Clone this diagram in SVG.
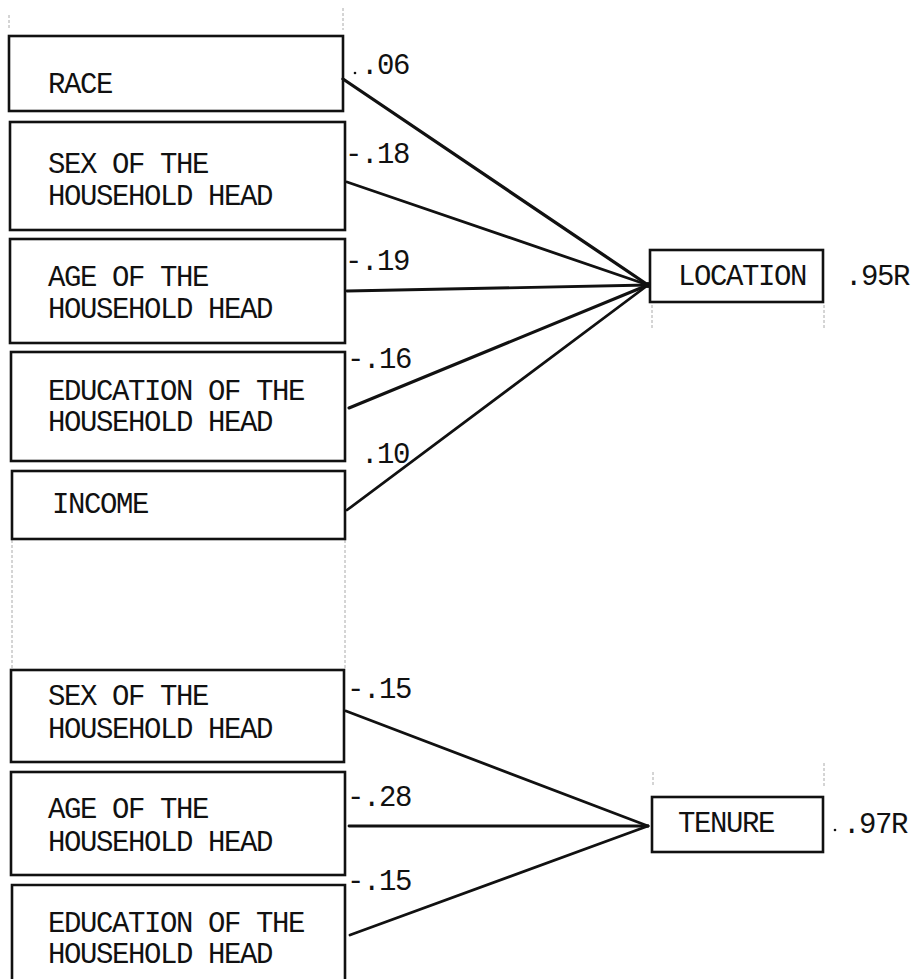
<svg xmlns="http://www.w3.org/2000/svg" width="913" height="979" viewBox="0 0 913 979">
<style>
.box{fill:none;stroke:#111;stroke-width:2.6}
.t{font-family:"Liberation Mono","DejaVu Sans Mono",monospace;font-size:29px;letter-spacing:-1.4px;fill:#111}
.c{stroke:#111;stroke-width:2.8;fill:none;stroke-linecap:round}
.faint{stroke:#aaa;stroke-width:1;fill:none;stroke-dasharray:3 2}
</style>
<rect width="913" height="979" fill="#fff"/>
<g id="guides">
<line class="faint" x1="9" y1="15" x2="9" y2="28"/>
<line class="faint" x1="343" y1="8" x2="343" y2="30"/>
<line class="faint" x1="12" y1="540" x2="12" y2="670"/>
<line class="faint" x1="345" y1="540" x2="345" y2="670"/>
<line class="faint" x1="652" y1="305" x2="652" y2="330"/>
<line class="faint" x1="824" y1="305" x2="824" y2="330"/>
<line class="faint" x1="653" y1="772" x2="653" y2="786"/>
<line class="faint" x1="824" y1="763" x2="824" y2="787"/>
</g>
<g id="connectors">
<line class="c" x1="343" y1="79" x2="648" y2="285" style="stroke-width:3.3"/>
<line class="c" x1="347" y1="182" x2="648" y2="285"/>
<line class="c" x1="347" y1="291" x2="648" y2="285"/>
<line class="c" x1="349" y1="408" x2="648" y2="285" style="stroke-width:3.1"/>
<line class="c" x1="347" y1="510" x2="648" y2="285"/>
<circle cx="648" cy="285" r="3" fill="#111"/>
<line class="c" x1="346" y1="711" x2="648" y2="826"/>
<line class="c" x1="349" y1="826" x2="648" y2="826"/>
<line class="c" x1="350" y1="935" x2="648" y2="826"/>
</g>
<g id="race">
<rect class="box" x="9" y="36" width="334" height="75"/>
<text class="t" x="48" y="93">RACE</text>
<circle cx="355" cy="73" r="1.3" fill="#111"/>
<text class="t" x="361" y="74">.06</text>
</g>
<g id="sex1">
<rect class="box" x="10" y="122" width="335" height="108"/>
<text class="t" x="48" y="173">SEX OF THE</text>
<text class="t" x="48" y="205">HOUSEHOLD HEAD</text>
<text class="t" x="345" y="163">-.18</text>
</g>
<g id="age1">
<rect class="box" x="10" y="239" width="335" height="104"/>
<text class="t" x="48" y="286">AGE OF THE</text>
<text class="t" x="48" y="318">HOUSEHOLD HEAD</text>
<text class="t" x="345" y="270">-.19</text>
</g>
<g id="edu1">
<rect class="box" x="11" y="352" width="334" height="109"/>
<text class="t" x="48" y="400">EDUCATION OF THE</text>
<text class="t" x="48" y="431">HOUSEHOLD HEAD</text>
<text class="t" x="347" y="368">-.16</text>
</g>
<g id="income">
<rect class="box" x="12" y="471" width="333" height="68"/>
<text class="t" x="52" y="513">INCOME</text>
<text class="t" x="361" y="463">.10</text>
</g>
<g id="location">
<rect class="box" x="650" y="250" width="173" height="52"/>
<text class="t" x="678" y="285">LOCATION</text>
<text class="t" x="845" y="285">.95R</text>
</g>
<g id="sex2">
<rect class="box" x="11" y="670" width="333" height="92"/>
<text class="t" x="48" y="705">SEX OF THE</text>
<text class="t" x="48" y="738">HOUSEHOLD HEAD</text>
<text class="t" x="347" y="698">-.15</text>
</g>
<g id="age2">
<rect class="box" x="11" y="772" width="334" height="103"/>
<text class="t" x="48" y="818">AGE OF THE</text>
<text class="t" x="48" y="851">HOUSEHOLD HEAD</text>
<text class="t" x="347" y="806">-.28</text>
</g>
<g id="edu2">
<path class="box" d="M12,990 V885 H345 V990"/>
<text class="t" x="48" y="932">EDUCATION OF THE</text>
<text class="t" x="48" y="963">HOUSEHOLD HEAD</text>
<text class="t" x="347" y="890">-.15</text>
</g>
<g id="tenure">
<rect class="box" x="652" y="797" width="171" height="55"/>
<text class="t" x="678" y="832">TENURE</text>
<circle cx="835" cy="830" r="1.3" fill="#111"/>
<text class="t" x="843" y="833">.97R</text>
</g>
</svg>
